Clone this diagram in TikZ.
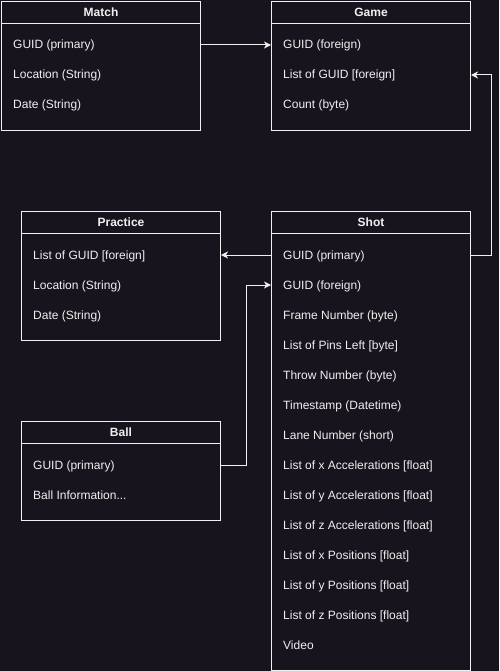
\documentclass[tikz,border=0pt]{standalone}
\usepackage{fontspec}
\setmainfont{Liberation Sans}
\usetikzlibrary{arrows.meta}
\definecolor{bg}{RGB}{24,20,29}
\definecolor{fg}{RGB}{240,240,240}
\begin{document}
\begin{tikzpicture}[x=1pt,y=-1pt,
  hdr/.style={draw=fg, line width=1pt, minimum width=199pt, minimum height=22pt, inner sep=0pt, text height=8pt, text depth=0pt, anchor=north west, text=fg, font=\fontsize{12}{14}\selectfont\bfseries},
  body/.style={draw=fg, line width=1pt, minimum width=199pt, inner sep=0pt, anchor=north west},
  row/.style={anchor=west, inner sep=0pt, text height=8pt, text depth=0pt, text=fg, font=\fontsize{12}{14}\selectfont},
  arr/.style={draw=fg, line width=1pt, -{Stealth[length=7pt,width=7pt,inset=2pt]}}]
\fill[bg] (0,0) rectangle (499,671);
\useasboundingbox (0,0) rectangle (499,671);
% Match
\node[hdr] (matchh) at (1,1) {Match};
\node[body, minimum height=107pt] (match) at (1,23) {};
\node[row] (m1) at (13,45) {GUID (primary)};
\node[row] (m2) at (13,75) {Location (String)};
\node[row] (m3) at (13,105) {Date (String)};
% Game
\node[hdr] (gameh) at (271,1) {Game};
\node[body, minimum height=107pt] (game) at (271,23) {};
\node[row] (g1) at (283,45) {GUID (foreign)};
\node[row] (g2) at (283,75) {List of GUID [foreign]};
\node[row] (g3) at (283,105) {Count (byte)};
% Practice
\node[hdr] (prach) at (21,211) {Practice};
\node[body, minimum height=107pt] (prac) at (21,233) {};
\node[row] (p1) at (33,255) {List of GUID [foreign]};
\node[row] (p2) at (33,285) {Location (String)};
\node[row] (p3) at (33,315) {Date (String)};
% Ball
\node[hdr] (ballh) at (21,421) {Ball};
\node[body, minimum height=77pt] (ball) at (21,443) {};
\node[row] (b1) at (33,465) {GUID (primary)};
\node[row] (b2) at (33,495) {Ball Information...};
% Shot
\node[hdr] (shoth) at (271,211) {Shot};
\node[body, minimum height=437pt] (shot) at (271,233) {};
\node[row] (s1) at (283,255) {GUID (primary)};
\node[row] (s2) at (283,285) {GUID (foreign)};
\node[row] (s3) at (283,315) {Frame Number (byte)};
\node[row] (s4) at (283,345) {List of Pins Left [byte]};
\node[row] (s5) at (283,375) {Throw Number (byte)};
\node[row] (s6) at (283,405) {Timestamp (Datetime)};
\node[row] (s7) at (283,435) {Lane Number (short)};
\node[row] (s8) at (283,465) {List of x Accelerations [float]};
\node[row] (s9) at (283,495) {List of y Accelerations [float]};
\node[row] (s10) at (283,525) {List of z Accelerations [float]};
\node[row] (s11) at (283,555) {List of x Positions [float]};
\node[row] (s12) at (283,585) {List of y Positions [float]};
\node[row] (s13) at (283,615) {List of z Positions [float]};
\node[row] (s14) at (283,645) {Video};
% connectors
\draw[arr] (m1 -| match.east) -- (g1 -| game.west);
\draw[arr] (s1 -| shot.west) -- (p1 -| prac.east);
\draw[arr] (s1 -| shot.east) -- ++(20,0) |- (g2 -| game.east);
\draw[arr] (b1 -| ball.east) -- ++(25,0) |- (s2 -| shot.west);
\end{tikzpicture}
\end{document}
